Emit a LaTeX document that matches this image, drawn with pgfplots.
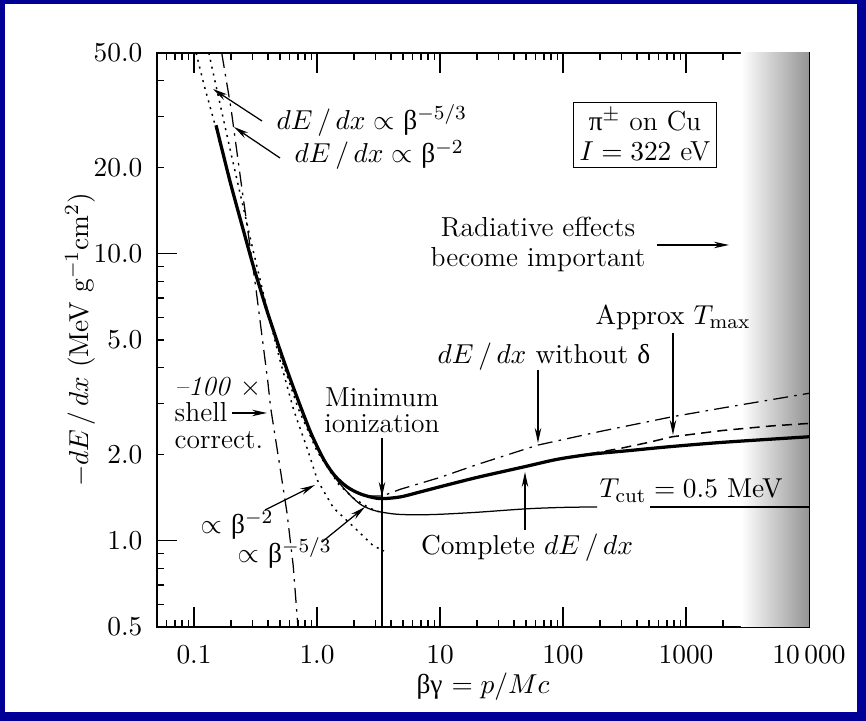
\documentclass[border=0pt,11pt]{standalone}
\usepackage{fontspec}
\usepackage{pgfplots}
\pgfplotsset{compat=1.18}
\usetikzlibrary{arrows.meta}
\newfontfamily\gk{Liberation Serif}
\definecolor{frameblue}{RGB}{0,0,150}

\pgfplotstableread{
x y
0.151 28.0
0.17 22.8
0.2 17.3
0.25 12.2
0.3 9.2
0.35 7.4
0.4 6.15
0.5 4.62
0.6 3.7
0.735 2.93
0.9 2.35
1.14 1.91
1.4 1.68
1.75 1.54
2.2 1.46
2.8 1.415
3.4 1.40
4.77 1.42
7 1.48
10 1.54
20 1.66
49 1.81
90 1.92
170 2.00
350 2.06
700 2.12
2000 2.20
10000 2.30
}\complete

\pgfplotstableread{
x y
0.9 2.35
1.14 1.91
1.4 1.66
1.75 1.48
2.24 1.34
2.8 1.28
3.4 1.255
4.5 1.235
6.5 1.23
10 1.235
20 1.255
50 1.29
100 1.305
189 1.31
}\tcutA

\pgfplotstableread{
x y
510 1.31
10000 1.31
}\tcutB

\pgfplotstableread{
x y
90 1.92
170 2.01
300 2.10
500 2.20
770 2.30
2000 2.42
5000 2.51
10000 2.56
}\tmax

\pgfplotstableread{
x y
2.5 1.43
3.4 1.43
4.77 1.51
10 1.66
20 1.84
62 2.15
200 2.40
770 2.70
2000 2.90
5000 3.10
10000 3.26
}\nodelta

\pgfplotstableread{
x y
0.168 50
0.2 32
0.24 18
0.318 7.6
0.397 3.62
0.42 2.9
0.5 1.8
0.57 1.25
0.64 0.82
0.70 0.5
}\shell

\pgfplotstableread{
x y
0.132 50
0.15 38.9
0.2 22.3
0.3 10.4
0.4 6.2
0.5 4.25
0.646 2.85
0.84 2.07
1.01 1.62
1.36 1.30
1.97 1.12
2.86 0.96
3.5 0.92
}\betatwo

\pgfplotstableread{
x y
0.104 50
0.12 39
0.15 27.6
0.2 17.2
0.3 9.2
0.5 4.45
0.7 2.9
1.0 2.05
1.5 1.57
2.0 1.40
2.5 1.32
3.0 1.27
3.5 1.25
}\betafive

\begin{document}
\begin{tikzpicture}
\fill[frameblue] (0,0) rectangle (346.4pt,288.4pt);
\fill[white] (2pt,3.6pt) rectangle (342.8pt,286.8pt);
\begin{loglogaxis}[
  at={(62.8pt,37.6pt)}, anchor=south west,
  scale only axis, width=260.8pt, height=229.6pt,
  xmin=0.05, xmax=10000, ymin=0.5, ymax=50,
  axis line style={line width=0.6pt},
  xtick={0.1,1,10,100,1000,10000},
  xticklabels={0.1,1.0,10,100,1000,10\,000},
  minor xtick={0.06,0.07,0.08,0.09,0.2,0.3,0.4,0.5,0.6,0.7,0.8,0.9,2,3,4,5,6,7,8,9,20,30,40,50,60,70,80,90,200,300,400,500,600,700,800,900,2000,3000,4000,5000,6000,7000,8000,9000},
  ytick={1,10}, yticklabels={1.0,10.0},
  extra y ticks={0.5,2,5,20,50},
  extra y tick labels={0.5,2.0,5.0,20.0,50.0},
  extra y tick style={major tick length=3pt},
  minor ytick={0.6,0.7,0.8,0.9,3,4,6,7,8,9,30,40},
  tick align=inside,
  major tick length=8pt, minor tick length=3pt,
  tick style={black, line width=0.5pt},
  xticklabel style={yshift=-3.5pt},
  yticklabel style={xshift=-2pt},
  xlabel={{\gk βγ} $= p/Mc$},
  xlabel shift=-4pt,
  ylabel={$-dE\,/\,dx$ (MeV g$^{-1}$cm$^{2}$)},
  ylabel shift=-8pt,
]
\addplot[draw=none, left color=white, right color=black!42] coordinates {(2800,0.5) (10000,0.5) (10000,50) (2800,50)} -- cycle;
\addplot[black, line width=0.6pt, dash pattern=on 0.8pt off 2pt] table[x=x,y=y] {\betatwo};
\addplot[black, line width=0.6pt, dash pattern=on 0.8pt off 2pt] table[x=x,y=y] {\betafive};
\addplot[black, line width=0.5pt, dash pattern=on 6pt off 2.5pt on 1pt off 2.5pt] table[x=x,y=y] {\shell};
\addplot[black, line width=0.5pt, dash pattern=on 6pt off 2.5pt on 1pt off 2.5pt] table[x=x,y=y] {\nodelta};
\addplot[black, line width=0.6pt, dash pattern=on 4pt off 2.5pt] table[x=x,y=y] {\tmax};
\addplot[black, line width=0.5pt, smooth] table[x=x,y=y] {\tcutA};
\addplot[black, line width=0.5pt] table[x=x,y=y] {\tcutB};
\addplot[black, line width=1.3pt, smooth] table[x=x,y=y] {\complete};
\end{loglogaxis}
\begin{scope}[yshift=288.4pt, x=0.4pt, y=-0.4pt, >={Stealth[length=6pt,width=2.6pt]}, line width=0.5pt]
\node[anchor=west] at (267,120) {$dE\,/\,dx \propto$ {\gk β}$^{-5/3}$};
\draw[->] (262,121) -- (213,89);
\node[anchor=west] at (285,155) {$dE\,/\,dx \propto$ {\gk β}$^{-2}$};
\draw[->] (280,158) -- (234,127);
\node[draw, line width=0.6pt, align=center, inner sep=2.5pt, font=\fontsize{11}{12}\selectfont] at (645,135) {{\gk π}$^{\pm}$ on Cu\\$I = 322$ eV};
\node[align=center, font=\fontsize{11}{12}\selectfont] at (538,245) {Radiative effects\\become important};
\draw[->] (657,245) -- (729,245);
\node at (673,317) {Approx $T_{\mathrm{max}}$};
\draw[->] (673,333) -- (673,435);
\node at (544,357) {$dE\,/\,dx$ without {\gk δ}};
\draw[->] (538,370) -- (538,443);
\node[align=center, font=\fontsize{11}{10.5}\selectfont] at (382,410) {Minimum\\ionization};
\draw (382,438) -- (382,627);
\draw[->] (382,438) -- (382,497);
\node[align=left, anchor=west, font=\fontsize{11}{10.5}\selectfont] at (165,413) {\textit{--100} $\times$\\shell\\correct.};
\draw[->] (232,413) -- (267,413);
\node[anchor=west] at (191,525) {$\propto$ {\gk β}$^{-2}$};
\draw[->] (265,510) -- (315,485);
\node[anchor=west] at (228,553) {$\propto$ {\gk β}$^{-5/3}$};
\draw[->] (322,542) -- (365,507);
\node[anchor=base west] at (590,498) {$T_{\mathrm{cut}} = 0.5$ MeV};
\node at (527,548) {Complete $dE\,/\,dx$};
\draw[->] (525,530) -- (525,472);
\end{scope}
\end{tikzpicture}
\end{document}
